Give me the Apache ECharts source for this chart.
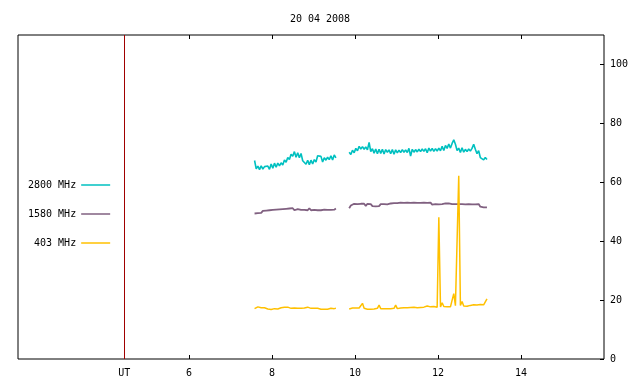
<!DOCTYPE html>
<html>
<head>
<meta charset="utf-8">
<script src="https://cdn.jsdelivr.net/npm/echarts@6/dist/echarts.min.js"></script>
<style>html,body{margin:0;padding:0;background:#fff}#c{width:640px;height:384px}</style>
</head>
<body>
<div id="c"></div>
<script>
// Time sampling of the two observing segments (UT hours)
var segAStart = 7.58, segBStart = 9.86, stepH = 0.04;
var utMarker = 4.44;
var xTicks = [6, 8, 10, 12, 14];
var yTicks = [0, 20, 40, 60, 80, 100];
var names = ['2800 MHz', '1580 MHz', '403 MHz'];

var f2800A = [67.4,64.6,65.5,64.3,65.6,64.5,65.3,64.7,65.5,64.4,
  66.2,64.8,66.5,65.1,66.5,65.6,66.6,65.9,67.6,66.8,
  68.4,67.7,69.5,68.8,70.4,68.5,70.0,68.3,69.8,67.3,
  67.8,66.1,67.5,66.0,67.5,66.2,67.7,66.9,69.0,68.5,
  68.8,66.9,68.3,67.5,68.5,67.7,69.0,67.6,69.3,68.3];
var f2800B = [70.2,69.4,70.9,70.0,71.5,70.7,72.2,71.3,72.1,71.2,
  72.0,71.0,73.5,70.4,71.4,69.9,71.3,69.7,71.2,69.8,
  71.2,69.6,71.1,70.2,71.0,69.7,71.1,69.5,71.0,70.0,
  70.9,70.1,71.1,70.2,71.0,70.1,71.5,68.9,71.2,70.2,
  71.1,70.3,71.2,70.4,71.3,70.5,71.4,70.0,71.6,70.6,
  71.5,70.5,71.4,70.6,71.6,70.7,72.2,70.8,72.5,71.5,
  73.0,71.6,73.2,74.4,72.9,70.8,71.6,70.1,71.7,70.2,
  71.2,70.4,71.3,70.6,71.5,72.9,71.2,69.7,70.7,68.4,
  68.5,67.6,68.4,67.7];
var f1580A = [49.4,50.0,49.5,50.1,49.6,50.3,49.7,50.4,49.8,50.5,
  50.0,50.6,50.1,50.7,50.2,50.8,50.3,50.9,50.4,51.0,
  50.5,51.1,50.6,51.2,50.5,51.1,50.9,51.2,50.6,51.0,
  50.6,51.2,50.5,51.2,50.5,51.1,50.6,51.2,50.5,51.1,
  50.5,51.1,50.7,51.1,50.6,51.0,50.6,51.1,50.7,51.1];
var f1580B = [51.2,52.1,52.0,52.7,52.1,52.6,52.3,52.7,52.2,52.7,
  52.0,52.7,52.1,52.6,51.9,52.5,51.8,52.4,51.9,52.6,
  52.2,52.6,52.2,52.5,52.1,52.8,52.4,52.9,52.5,52.9,
  52.5,53.1,52.5,53.0,52.5,53.1,52.5,53.0,52.6,53.1,
  52.5,53.0,52.6,53.0,52.5,53.1,52.5,53.0,52.6,53.1,
  52.4,53.0,52.6,53.1,52.5,53.1,52.6,53.2,52.8,53.3,
  52.8,53.2,52.6,53.1,52.6,53.0,52.6,53.1,52.6,53.0,
  52.5,53.1,52.6,53.0,52.5,53.1,52.5,53.0,52.6,51.7,
  51.9,51.5,51.9,51.5];
var f403A = [17.1,17.0,17.7,17.6,17.4,17.0,17.4,17.5,17.0,16.7,
  16.8,17.2,17.1,16.8,17.0,17.3,17.4,17.3,17.6,17.7,
  17.6,17.3,17.2,17.2,17.3,17.2,17.2,17.3,17.2,17.2,
  17.3,17.2,17.6,17.2,17.2,17.5,17.2,17.3,17.2,16.9,
  16.9,16.9,16.9,16.9,16.9,17.0,17.2,17.2,17.1,17.2];
var f403B = [17.0,17.2,17.3,17.2,17.3,17.2,17.3,17.2,18.9,17.2,
  17.0,16.9,17.0,16.9,17.0,17.0,17.1,17.2,18.3,17.1,
  17.0,17.1,17.0,17.1,17.2,17.1,17.0,17.2,18.3,17.1,
  17.2,17.3,17.2,17.4,17.5,17.4,17.3,17.5,17.4,17.6,
  17.5,17.4,17.6,17.5,17.8,17.6,17.5,18.0,17.6,17.7,
  17.5,17.8,18.0,17.6,48.1,17.7,19.1,17.8,17.6,17.7,
  17.9,17.7,18.0,22.2,18.1,17.9,62.2,18.2,19.5,18.0,
  18.6,17.9,18.1,18.2,17.9,18.4,18.6,18.3,18.7,18.5,
  18.9,18.4,19.0,20.4];

function build(a, b) {
  var out = [];
  a.forEach(function (v, i) { out.push([+(segAStart + i * stepH).toFixed(2), v]); });
  out.push([9.7, null]);
  b.forEach(function (v, i) { out.push([+(segBStart + i * stepH).toFixed(2), v]); });
  return out;
}

var colors = ['#00c0c0', '#806080', '#ffc000'];
var font = 'DejaVu Sans Mono';

var chart = echarts.init(document.getElementById('c'), null, {renderer: 'canvas'});
chart.setOption({
  animation: false,
  backgroundColor: '#fff',
  title: {
    text: '20 04 2008', left: 'center', top: 9,
    textStyle: {fontFamily: font, fontSize: 10, fontWeight: 'normal', color: '#000'}
  },
  legend: {
    orient: 'vertical', left: 23, top: 175, align: 'right', itemGap: 19,
    icon: 'rect', itemWidth: 29, itemHeight: 1.5,
    selectedMode: false,
    formatter: function (n) { return n.length < 8 ? ' ' + n : n; },
    textStyle: {fontFamily: font, fontSize: 10, color: '#000'},
    data: names
  },
  grid: {left: 18, right: 36, top: 35, bottom: 25, show: true, borderColor: '#000', borderWidth: 1},
  xAxis: [{
    type: 'value', min: 1.88, max: 16, position: 'bottom',
    axisLine: {show: false}, splitLine: {show: false},
    axisTick: {show: true, inside: true, length: 4, lineStyle: {color: '#000'}, customValues: xTicks},
    axisLabel: {
      margin: 9, color: '#000', fontFamily: font, fontSize: 10,
      customValues: [utMarker].concat(xTicks),
      formatter: function (v) { return Math.abs(v - utMarker) < 0.01 ? 'UT' : String(v); }
    }
  }, {
    type: 'value', min: 1.88, max: 16, position: 'top',
    axisLine: {show: false}, splitLine: {show: false},
    axisTick: {show: true, inside: true, length: 4, lineStyle: {color: '#000'}, customValues: xTicks},
    axisLabel: {show: false}
  }],
  yAxis: {
    type: 'value', min: 0, max: 110, position: 'right',
    axisLine: {show: false}, splitLine: {show: false},
    axisTick: {show: true, inside: true, length: 4, lineStyle: {color: '#000'}, customValues: yTicks},
    axisLabel: {margin: 6, color: '#000', fontFamily: font, fontSize: 10, customValues: yTicks}
  },
  series: [
    {name: names[0], type: 'line', color: colors[0], showSymbol: false, symbol: 'none',
     lineStyle: {width: 1.6, color: colors[0]}, data: build(f2800A, f2800B),
     markLine: {symbol: 'none', silent: true, label: {show: false},
       lineStyle: {color: '#a00000', type: 'solid', width: 1},
       data: [{xAxis: utMarker}]}},
    {name: names[1], type: 'line', color: colors[1], showSymbol: false, symbol: 'none',
     lineStyle: {width: 1.8, color: colors[1]}, data: build(f1580A, f1580B)},
    {name: names[2], type: 'line', color: colors[2], showSymbol: false, symbol: 'none',
     lineStyle: {width: 1.5, color: colors[2]}, data: build(f403A, f403B)}
  ]
});
</script>
</body>
</html>
